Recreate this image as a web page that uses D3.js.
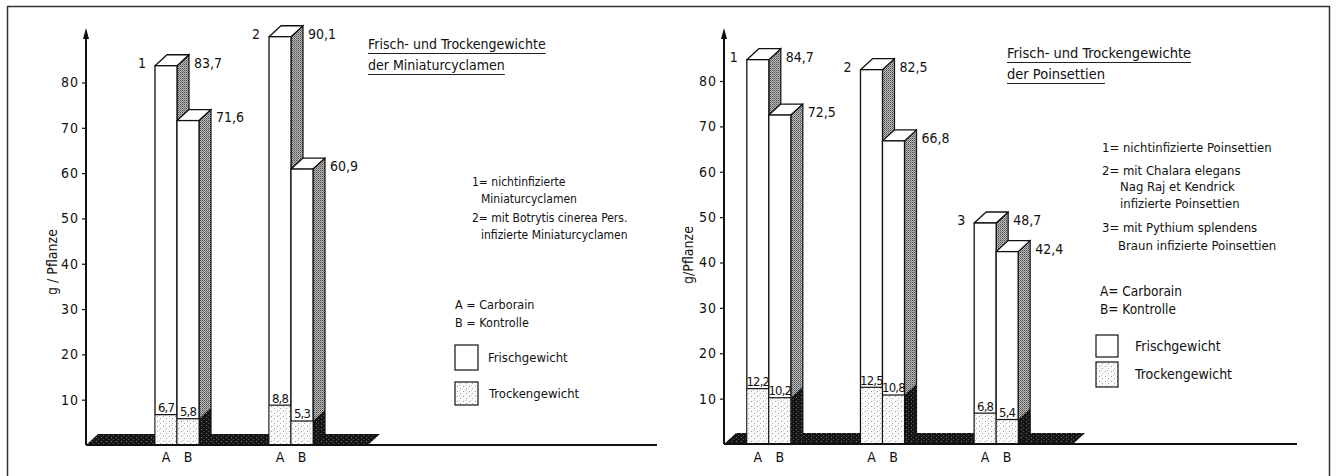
<!DOCTYPE html>
<html>
<head>
<meta charset="utf-8">
<script src="https://d3js.org/d3.v7.min.js"></script>
<style>
  body { margin: 0; background: #fff; }
  svg text { font-family: "DejaVu Sans Condensed", "DejaVu Sans", sans-serif; font-stretch: condensed; fill: #111; }
</style>
</head>
<body>
<script>
// ---- data ----
var ticks = [10, 20, 30, 40, 50, 60, 70, 80];
var treatments = ["A", "B"];

// left: Miniaturcyclamen
var groupsL = ["1", "2"];
var freshA_L = [83.7, 90.1];
var freshB_L = [71.6, 60.9];
var dryA_L = [6.7, 8.8];
var dryB_L = [5.8, 5.3];

// right: Poinsettien
var groupsR = ["1", "2", "3"];
var freshA_R = [84.7, 82.5, 48.7];
var freshB_R = [72.5, 66.8, 42.4];
var dryA_R = [12.2, 12.5, 6.8];
var dryB_R = [10.2, 10.8, 5.4];

var titleL = ["Frisch- und Trockengewichte", "der Miniaturcyclamen"];
var titleR = ["Frisch- und Trockengewichte", "der Poinsettien"];
var legendL = ["1= nichtinfizierte", "Miniaturcyclamen", "2= mit Botrytis cinerea Pers.", "infizierte Miniaturcyclamen"];
var legendR = ["1= nichtinfizierte Poinsettien", "2= mit Chalara elegans", "Nag Raj et Kendrick", "infizierte Poinsettien", "3= mit Pythium splendens", "Braun  infizierte Poinsettien"];
var abL = ["A = Carborain", "B = Kontrolle"];
var abR = ["A= Carborain", "B= Kontrolle"];
var keyText = ["Frischgewicht", "Trockengewicht"];

var W = 1338, H = 476;
var svg = d3.select("body").append("svg").attr("width", W).attr("height", H);

// patterns
var defs = svg.append("defs");
var pSide = defs.append("pattern").attr("id", "side").attr("width", 2).attr("height", 2).attr("patternUnits", "userSpaceOnUse");
pSide.append("rect").attr("width", 2).attr("height", 2).attr("fill", "#bcbcbc");
pSide.append("rect").attr("x", 0).attr("y", 0).attr("width", 1).attr("height", 1).attr("fill", "#4a4a4a");
pSide.append("rect").attr("x", 1).attr("y", 1).attr("width", 1).attr("height", 1).attr("fill", "#7a7a7a");

var pDark = defs.append("pattern").attr("id", "dark").attr("width", 5).attr("height", 4).attr("patternUnits", "userSpaceOnUse");
pDark.append("rect").attr("width", 5).attr("height", 4).attr("fill", "#151515");
pDark.append("rect").attr("x", 1).attr("y", 1).attr("width", 1).attr("height", 1).attr("fill", "#777");
pDark.append("rect").attr("x", 3).attr("y", 3).attr("width", 1).attr("height", 1).attr("fill", "#555");

var pDot = defs.append("pattern").attr("id", "dots").attr("width", 6).attr("height", 5).attr("patternUnits", "userSpaceOnUse");
pDot.append("rect").attr("width", 6).attr("height", 5).attr("fill", "#fafafa");
pDot.append("rect").attr("x", 1).attr("y", 1).attr("width", 1).attr("height", 1).attr("fill", "#999");
pDot.append("rect").attr("x", 4).attr("y", 3).attr("width", 1).attr("height", 1).attr("fill", "#aaa");
pDot.append("rect").attr("x", 3).attr("y", 0).attr("width", 1).attr("height", 1).attr("fill", "#ccc");

// frame
svg.append("path").attr("d", "M7.5,476 V6.5 H1329.5 V476")
  .attr("fill", "none").attr("stroke", "#333").attr("stroke-width", 1.5);

var comma = function(v) { return d3.format(".1f")(v).replace(".", ","); };
var dx = 12, dy = 11;

function panel(cfg) {
  var g = svg.append("g");
  var y = d3.scaleLinear().domain([0, 80]).range([cfg.y0, cfg.y80]);
  var x = d3.scaleBand().domain(cfg.groups).range(cfg.xRange);
  var sub = d3.scaleBand().domain(treatments).range([x.bandwidth() / 2 - 22, x.bandwidth() / 2 + 22]);
  var base = y(0);

  // floor
  var fEnd = cfg.xRange[1] + 20;
  g.append("path")
    .attr("d", "M" + cfg.axisX + "," + base + " L" + (cfg.axisX + dx) + "," + (base - dy) +
      " L" + (fEnd + dx) + "," + (base - dy) + " L" + fEnd + "," + base + "Z")
    .attr("fill", "url(#dark)");

  var bars = [];
  cfg.groups.forEach(function(k, i) {
    bars.push({ grp: k, t: "A", fresh: cfg.freshA[i], dry: cfg.dryA[i] });
    bars.push({ grp: k, t: "B", fresh: cfg.freshB[i], dry: cfg.dryB[i] });
  });

  bars.forEach(function(b) {
    var xl = x(b.grp) + sub(b.t), xr = xl + sub.bandwidth();
    var yt = y(b.fresh), yd = y(b.dry);
    // side face
    g.append("path")
      .attr("d", "M" + xr + "," + yt + " L" + (xr + dx) + "," + (yt - dy) + " L" + (xr + dx) + "," + (base - dy) + " L" + xr + "," + base + "Z")
      .attr("fill", "url(#side)").attr("stroke", "#111").attr("stroke-width", 1.2);
    g.append("path")
      .attr("d", "M" + xr + "," + yd + " L" + (xr + dx) + "," + (yd - dy) + " L" + (xr + dx) + "," + (base - dy) + " L" + xr + "," + base + "Z")
      .attr("fill", "url(#dark)");
    // top face
    g.append("path")
      .attr("d", "M" + xl + "," + yt + " L" + (xl + dx) + "," + (yt - dy) + " L" + (xr + dx) + "," + (yt - dy) + " L" + xr + "," + yt + "Z")
      .attr("fill", "#fff").attr("stroke", "#111").attr("stroke-width", 1.3).attr("stroke-linejoin", "round");
    // front
    g.append("rect").attr("x", xl).attr("y", yt).attr("width", xr - xl).attr("height", base - yt)
      .attr("fill", "#fff").attr("stroke", "#111").attr("stroke-width", 1.3);
    g.append("rect").attr("x", xl + 0.7).attr("y", yd).attr("width", xr - xl - 1.4).attr("height", base - yd)
      .attr("fill", "url(#dots)");
    g.append("line").attr("x1", xl).attr("x2", xr).attr("y1", yd).attr("y2", yd)
      .attr("stroke", "#111").attr("stroke-width", 1.2);
    // labels
    g.append("text").attr("x", (xl + xr) / 2).attr("y", yd - 2.5).attr("text-anchor", "middle")
      .attr("font-size", 13).attr("letter-spacing", -0.8).text(comma(b.dry));
    g.append("text").attr("x", xr + dx + 5).attr("y", yt - 3).attr("dy", "0.35em")
      .attr("font-size", 14).text(comma(b.fresh));
    if (b.t === "A") {
      g.append("text").attr("x", xl - 9).attr("y", yt - 3).attr("dy", "0.35em").attr("text-anchor", "end")
        .attr("font-size", 14).text(b.grp);
    }
    g.append("text").attr("x", (xl + xr) / 2).attr("y", 457).attr("dy", "0.35em").attr("text-anchor", "middle")
      .attr("font-size", 14).text(b.t);
  });

  // baseline
  g.append("line").attr("x1", cfg.axisX).attr("x2", cfg.baseEnd).attr("y1", base).attr("y2", base)
    .attr("stroke", "#111").attr("stroke-width", 2);

  // y axis
  var ax = g.append("g").attr("transform", "translate(" + cfg.axisX + ",0)")
    .call(d3.axisLeft(y).tickValues(ticks).tickSize(4).tickPadding(3).tickFormat(d3.format("d")));
  ax.select(".domain").remove();
  ax.selectAll("line").attr("stroke", "#111").attr("stroke-width", 1.2);
  ax.selectAll("text").attr("font-size", 14).attr("letter-spacing", 1).attr("fill", "#111")
    .style("font-family", "'DejaVu Sans Condensed', 'DejaVu Sans', sans-serif");
  g.append("line").attr("x1", cfg.axisX).attr("x2", cfg.axisX).attr("y1", base).attr("y2", 36)
    .attr("stroke", "#111").attr("stroke-width", 2);
  g.append("path").attr("d", "M" + (cfg.axisX - 3) + ",39 L" + cfg.axisX + ",28 L" + (cfg.axisX + 3) + ",39Z").attr("fill", "#111");

  g.append("text").attr("transform", "translate(" + cfg.yLab[0] + "," + cfg.yLab[1] + ") rotate(-90)")
    .attr("text-anchor", "middle").attr("dy", "0.35em").attr("font-size", 14).text(cfg.yText);

  // title with underline
  cfg.title.forEach(function(s, i) {
    var t = g.append("text").attr("x", cfg.titlePos[0]).attr("y", cfg.titlePos[1] + i * 21).attr("dy", "0.35em")
      .attr("font-size", cfg.titleSize).text(s);
    var w = t.node().getComputedTextLength();
    g.append("line").attr("x1", cfg.titlePos[0]).attr("x2", cfg.titlePos[0] + w)
      .attr("y1", cfg.titlePos[1] + i * 21 + 9.5).attr("y2", cfg.titlePos[1] + i * 21 + 9.5)
      .attr("stroke", "#222").attr("stroke-width", 1);
  });

  cfg.legend.forEach(function(s, i) {
    g.append("text").attr("x", cfg.legPos[i][0]).attr("y", cfg.legPos[i][1]).attr("dy", "0.35em")
      .attr("font-size", cfg.legSize).text(s);
  });
  cfg.ab.forEach(function(s, i) {
    g.append("text").attr("x", cfg.abPos[0]).attr("y", cfg.abPos[1] + i * 18).attr("dy", "0.35em")
      .attr("font-size", cfg.legSize + 0.5).text(s);
  });
  keyText.forEach(function(s, i) {
    var b = cfg.keys[i];
    g.append("rect").attr("x", b[0]).attr("y", b[1]).attr("width", b[2]).attr("height", b[3])
      .attr("fill", i === 0 ? "#fff" : "url(#dots)").attr("stroke", "#111").attr("stroke-width", 1.2);
    g.append("text").attr("x", b[4]).attr("y", b[1] + b[3] / 2).attr("dy", "0.35em")
      .attr("font-size", cfg.legSize + 1).text(s);
  });
}

panel({
  groups: groupsL, freshA: freshA_L, freshB: freshB_L, dryA: dryA_L, dryB: dryB_L,
  y0: 445, y80: 82.5, xRange: [120, 348], axisX: 86, baseEnd: 657,
  yLab: [52, 262], yText: "g / Pflanze",
  title: titleL, titlePos: [368, 44], titleSize: 14,
  legend: legendL, legSize: 12,
  legPos: [[472, 182], [481, 199], [472, 218], [481, 235]],
  ab: abL, abPos: [455, 305],
  keys: [[455, 345, 23, 25, 488], [455, 382, 23, 23, 489]]
});

panel({
  groups: groupsR, freshA: freshA_R, freshB: freshB_R, dryA: dryA_R, dryB: dryB_R,
  y0: 444, y80: 81, xRange: [712, 1053], axisX: 724, baseEnd: 1297,
  yLab: [688, 255], yText: "g/Pflanze",
  title: titleR, titlePos: [1007, 53], titleSize: 14.5,
  legend: legendR, legSize: 13,
  legPos: [[1102, 147], [1102, 170], [1120, 186], [1120, 203], [1102, 227], [1118, 245]],
  ab: abR, abPos: [1100, 291],
  keys: [[1096, 335, 22, 22, 1135], [1096, 362, 22, 25, 1135]]
});
</script>
</body>
</html>
